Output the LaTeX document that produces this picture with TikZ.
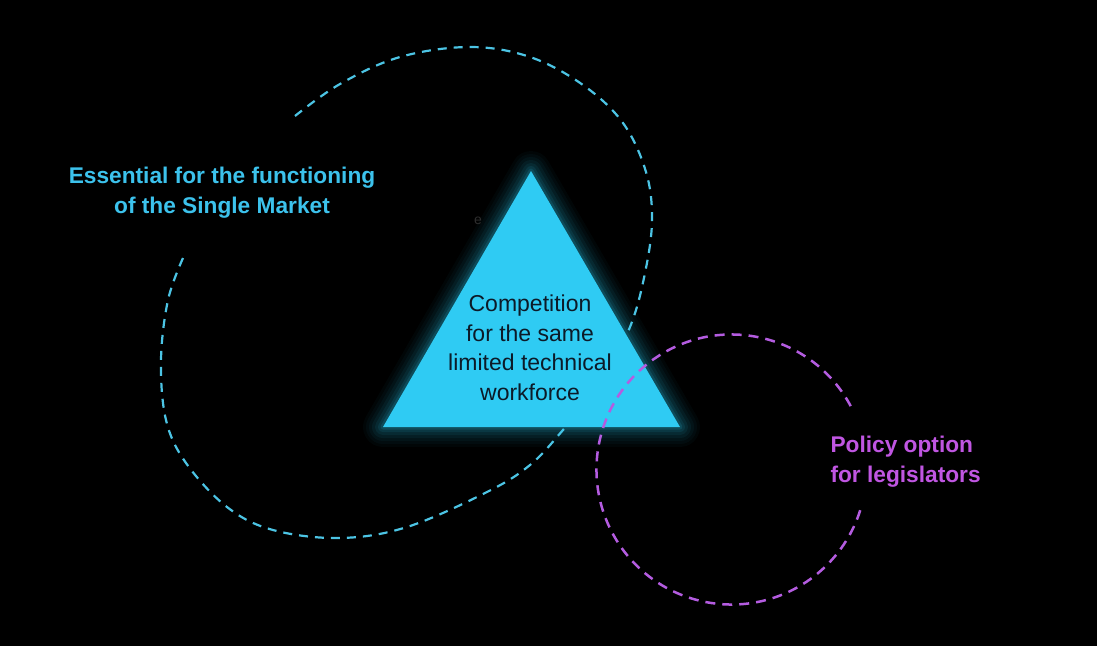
\documentclass[tikz,border=0pt]{standalone}
\usepackage{fontspec}
\setmainfont{Liberation Sans}
\definecolor{bgc}{HTML}{000000}
\definecolor{tri}{HTML}{2FCBF3}
\definecolor{cyantext}{HTML}{3CC2EC}
\definecolor{cyanline}{HTML}{4CC4E4}
\definecolor{magline}{HTML}{B45CE0}
\definecolor{magtext}{HTML}{C056E2}
\definecolor{darktext}{HTML}{0C1A28}
\tikzset{
  cyandash/.style={draw=cyanline, line width=2.2pt, dash pattern=on 9pt off 7pt},
  magdash/.style={draw=magline, line width=2.5pt, dash pattern=on 10pt off 7pt},
  bluelabel/.style={text=cyantext, font=\bfseries\fontsize{22.7}{30}\selectfont, align=center},
  maglabel/.style={text=magtext, font=\bfseries\fontsize{22.7}{30}\selectfont, align=left, anchor=west},
  tritext/.style={text=darktext, font=\fontsize{23}{29.5}\selectfont, align=center},
}
\begin{document}
\begin{tikzpicture}[x=1pt, y=-1pt]
\fill[bgc] (0,0) rectangle (1097,646);
\useasboundingbox (0,0) rectangle (1097,646);
% cyan loop (behind triangle)
\draw[cyandash] plot[smooth, tension=0.6] coordinates {
 (183,258) (168,300) (161,360) (166,420) (186,463) (227,507)
 (273,530) (340,538) (407,527) (487,492) (530,465) (563,430)
 (600,385) (630,327) (645,273) (652,220) (646,172) (623,123) (583,85)
 (530,57) (470,47) (400,57) (340,84) (295,116)};
% triangle
\coordinate (ta) at (531,171);
\coordinate (tb) at (383,427);
\coordinate (tc) at (680,427);
\foreach \w/\o in {40/0.03, 34/0.035, 28/0.045, 22/0.055, 16/0.07, 10/0.09, 5/0.13} {
  \draw[draw=tri, line width=\w pt, opacity=\o, line join=round] (ta) -- (tb) -- (tc) -- cycle;
}
\fill[tri] (ta) -- (tb) -- (tc) -- cycle;
\node[tritext] (comp) at (530,348) {Competition\\for the same\\limited technical\\workforce};
\node[text=black!82!white, font=\fontsize{14}{15}\selectfont] (ee) at (478,221) {e};
% magenta circle
\coordinate (mc) at (731.5,469.5);
\draw[magdash] (mc) ++(-28:135) arc[start angle=-28, end angle=-343, radius=135];
% labels
\node[bluelabel] (ess) at (222,193) {Essential for the functioning\\of the Single Market};
\node[maglabel] (pol) at (827,462) {Policy option\\for legislators};
\end{tikzpicture}
\end{document}
